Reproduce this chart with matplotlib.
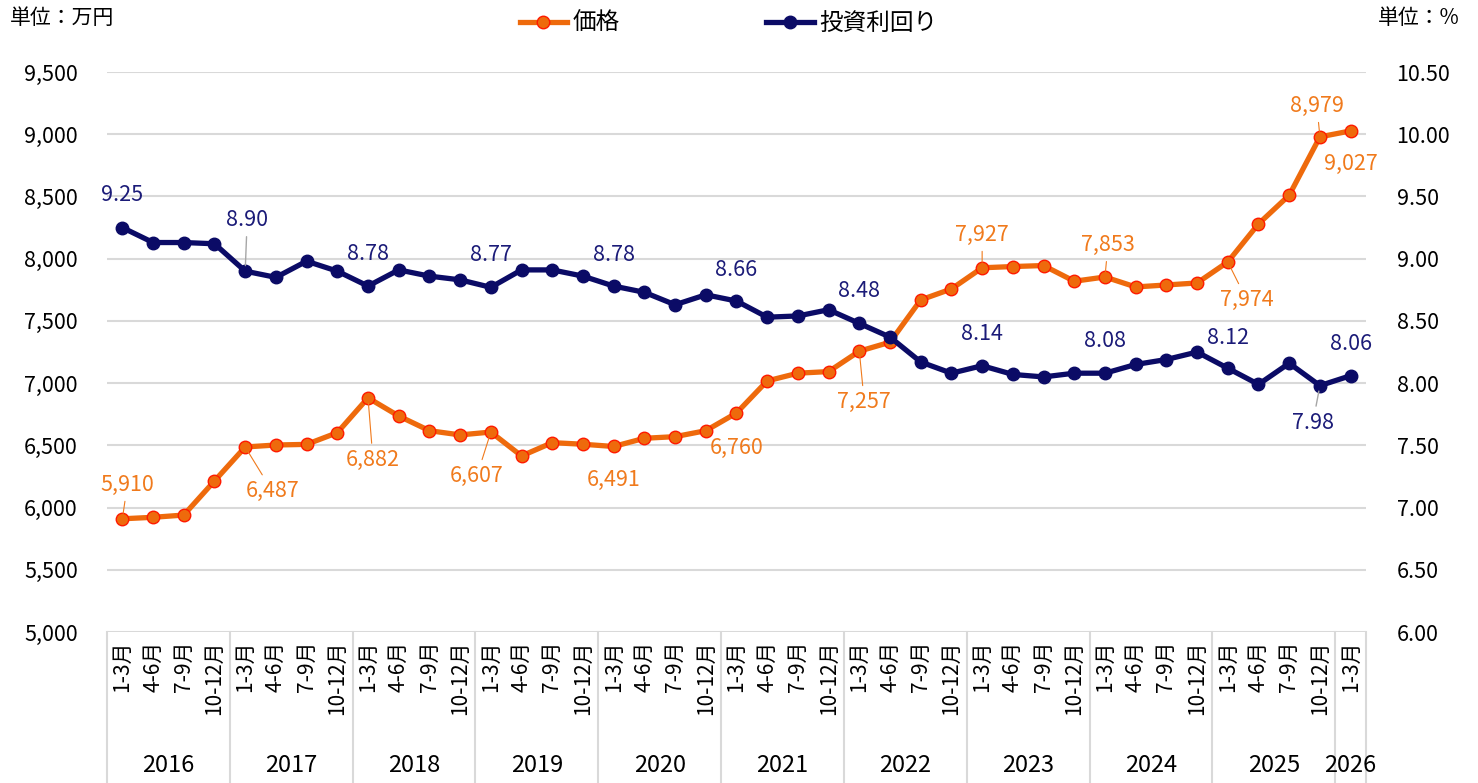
import numpy as np
import matplotlib as mpl
mpl.use("Agg")
import matplotlib.pyplot as plt
import matplotlib.transforms as mtransforms
from matplotlib.ticker import FuncFormatter

plt.rcParams["font.family"] = ["Noto Sans CJK JP", "DejaVu Sans"]

# quarterly data, 2016 1-3 ... 2026 1-3
years = ["2016", "2017", "2018", "2019", "2020", "2021", "2022", "2023", "2024", "2025", "2026"]
quarters = ["1-3月", "4-6月", "7-9月", "10-12月"]
price = [5910, 5922, 5940, 6214, 6487, 6503, 6508, 6602, 6882, 6736, 6618, 6584, 6607, 6415, 6522,
         6509, 6491, 6557, 6570, 6618, 6760, 7018, 7080, 7093, 7257, 7329, 7669, 7757, 7927, 7937,
         7945, 7819, 7853, 7773, 7789, 7805, 7974, 8280, 8510, 8979, 9027]
yld = [9.25, 9.13, 9.13, 9.12, 8.90, 8.85, 8.98, 8.90, 8.78, 8.91, 8.86, 8.83, 8.77, 8.91, 8.91,
       8.86, 8.78, 8.73, 8.63, 8.71, 8.66, 8.53, 8.54, 8.59, 8.48, 8.37, 8.17, 8.08, 8.14, 8.07,
       8.05, 8.08, 8.08, 8.15, 8.19, 8.25, 8.12, 7.99, 8.16, 7.98, 8.06]

# labelled points: index -> (dx, dy in pixels, leader line)
price_labels = {0: (5, 34, True), 4: (27, -44, True), 8: (5, -62, True), 12: (-14, -44, True),
                16: (0, -33, False), 20: (0, -35, False), 24: (5, -51, True), 28: (0, 33, True),
                32: (3, 32, True), 36: (19, -38, True), 39: (-3, 31, True), 40: (0, -33, False)}
yld_labels = {0: (0, 33, False), 4: (2, 51, True), 8: (0, 32, False), 12: (0, 32, False),
              16: (0, 31, False), 20: (0, 31, False), 24: (0, 32, False), 28: (0, 32, False),
              32: (0, 32, False), 36: (0, 30, False), 39: (-7, -37, True), 40: (0, 32, False)}

orange = "#EE6A0C"
orange_txt = "#F07A1C"
navy = "#0B0B66"
navy_txt = "#1B1B78"
grid_c = "#D9D9D9"

n = len(price)
x = np.arange(n)
xlabels = [quarters[i % 4] for i in range(n)]

fig = plt.figure(figsize=(14.78, 7.83), dpi=100)
ax = fig.add_axes([0.0724, 0.1928, 0.8518, 0.7152])
ax2 = ax.twinx()

ax.set_ylim(5000, 9500)
ax.set_yticks(np.arange(5000, 9501, 500))
ax.yaxis.set_major_formatter(FuncFormatter(lambda v, p: f"{int(v):,}"))
ax2.set_ylim(6.0, 10.5)
ax2.set_yticks(np.arange(6.0, 10.51, 0.5))
ax2.yaxis.set_major_formatter(FuncFormatter(lambda v, p: f"{v:.2f}"))
ax.set_xlim(-0.5, n - 0.5)

for a in (ax, ax2):
    for s in a.spines.values():
        s.set_visible(False)
    a.tick_params(axis="y", length=0, labelsize=15.5)
ax.tick_params(axis="y", pad=21)
ax2.tick_params(axis="y", pad=22)
ax.grid(axis="y", color=grid_c, lw=1.5)
ax.set_axisbelow(True)

ax.set_xticks(x)
ax.set_xticklabels(xlabels, rotation=90, fontsize=15, va="top")
ax.tick_params(axis="x", length=0, pad=6)

# category separators & year labels
tr = mtransforms.blended_transform_factory(ax.transData, ax.transAxes)
for b in [-0.5] + [3.5 + 4 * k for k in range(10)] + [n - 0.5]:
    ax.plot([b, b], [0, -0.27], color=grid_c, lw=1.5, transform=tr, clip_on=False)
for k, yr in enumerate(years):
    start = 4 * k
    end = min(start + 3, n - 1)
    ax.text((start + end) / 2, -0.239, yr, transform=tr, ha="center", va="center", fontsize=17)

ax.plot(x, price, color=orange, lw=3.8, marker="o", ms=9, mfc=orange, mec="#FF1A00", mew=1,
        label="価格", zorder=3)
ax2.plot(x, yld, color=navy, lw=3.8, marker="o", ms=9, mfc=navy, mec=navy, label="投資利回り",
         zorder=3)

for i, (dx, dy, lead) in price_labels.items():
    ax.annotate(f"{price[i]:,}", (x[i], price[i]), xytext=(dx, dy), textcoords="offset pixels",
                ha="center", va="center", fontsize=15.5, color=orange_txt,
                arrowprops=dict(arrowstyle="-", color=orange_txt, lw=0.8, shrinkA=2, shrinkB=4)
                if lead else None)
for i, (dx, dy, lead) in yld_labels.items():
    ax2.annotate(f"{yld[i]:.2f}", (x[i], yld[i]), xytext=(dx, dy), textcoords="offset pixels",
                 ha="center", va="center", fontsize=15.5, color=navy_txt,
                 arrowprops=dict(arrowstyle="-", color="#A6A6A6", lw=1, shrinkA=2, shrinkB=4)
                 if lead else None)

h1, l1 = ax.get_legend_handles_labels()
h2, l2 = ax2.get_legend_handles_labels()
fig.legend(h1 + h2, l1 + l2, loc="upper center", bbox_to_anchor=(0.493, 1.012), ncol=2,
           frameon=False, fontsize=17, handlelength=2.0, columnspacing=6.2, handletextpad=0.25)

fig.text(0.007, 0.977, "単位：万円", fontsize=15, va="center", ha="left")
fig.text(0.932, 0.977, "単位：%", fontsize=15, va="center", ha="left")

fig.savefig("out.png", dpi=100)
